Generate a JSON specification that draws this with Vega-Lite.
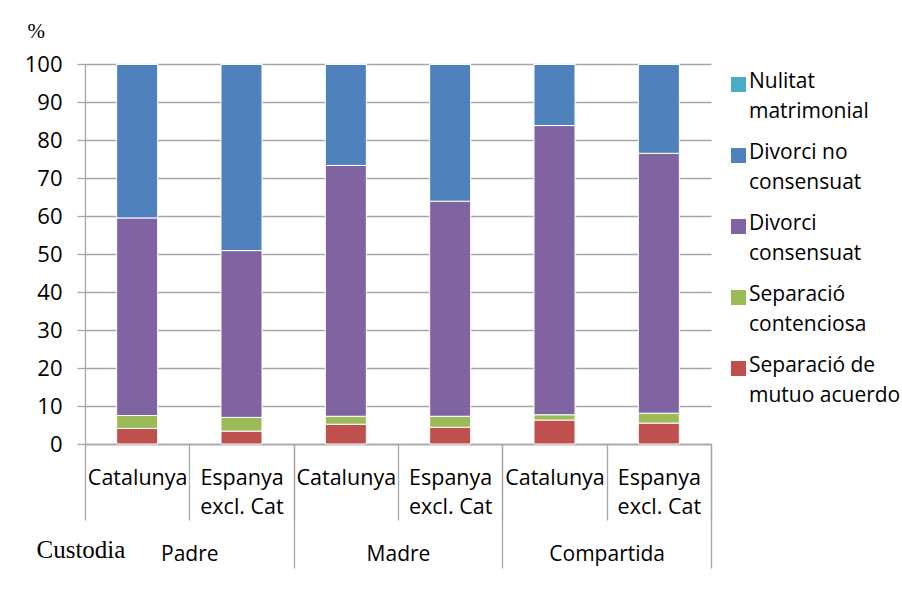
{
  "$schema": "https://vega.github.io/schema/vega-lite/v6.json",
  "width": 626,
  "height": 380,
  "autosize": "none",
  "padding": {"left": 85, "top": 64, "right": 191, "bottom": 161},
  "background": "white",
  "config": {"view": {"stroke": null}},
  "data": {
    "values": [
      {"custody": "Padre", "region": "Catalunya", "key": "Padre Catalunya", "tipo": "Separació de mutuo acuerdo", "ord": 1, "value": 4.1},
      {"custody": "Padre", "region": "Catalunya", "key": "Padre Catalunya", "tipo": "Separació contenciosa", "ord": 2, "value": 3.4},
      {"custody": "Padre", "region": "Catalunya", "key": "Padre Catalunya", "tipo": "Divorci consensuat", "ord": 3, "value": 52.0},
      {"custody": "Padre", "region": "Catalunya", "key": "Padre Catalunya", "tipo": "Divorci no consensuat", "ord": 4, "value": 40.4},
      {"custody": "Padre", "region": "Catalunya", "key": "Padre Catalunya", "tipo": "Nulitat matrimonial", "ord": 5, "value": 0.1},
      {"custody": "Padre", "region": "Espanya excl. Cat", "key": "Padre Espanya excl. Cat", "tipo": "Separació de mutuo acuerdo", "ord": 1, "value": 3.4},
      {"custody": "Padre", "region": "Espanya excl. Cat", "key": "Padre Espanya excl. Cat", "tipo": "Separació contenciosa", "ord": 2, "value": 3.6},
      {"custody": "Padre", "region": "Espanya excl. Cat", "key": "Padre Espanya excl. Cat", "tipo": "Divorci consensuat", "ord": 3, "value": 43.9},
      {"custody": "Padre", "region": "Espanya excl. Cat", "key": "Padre Espanya excl. Cat", "tipo": "Divorci no consensuat", "ord": 4, "value": 49.0},
      {"custody": "Padre", "region": "Espanya excl. Cat", "key": "Padre Espanya excl. Cat", "tipo": "Nulitat matrimonial", "ord": 5, "value": 0.1},
      {"custody": "Madre", "region": "Catalunya", "key": "Madre Catalunya", "tipo": "Separació de mutuo acuerdo", "ord": 1, "value": 5.2},
      {"custody": "Madre", "region": "Catalunya", "key": "Madre Catalunya", "tipo": "Separació contenciosa", "ord": 2, "value": 2.1},
      {"custody": "Madre", "region": "Catalunya", "key": "Madre Catalunya", "tipo": "Divorci consensuat", "ord": 3, "value": 66.0},
      {"custody": "Madre", "region": "Catalunya", "key": "Madre Catalunya", "tipo": "Divorci no consensuat", "ord": 4, "value": 26.6},
      {"custody": "Madre", "region": "Catalunya", "key": "Madre Catalunya", "tipo": "Nulitat matrimonial", "ord": 5, "value": 0.1},
      {"custody": "Madre", "region": "Espanya excl. Cat", "key": "Madre Espanya excl. Cat", "tipo": "Separació de mutuo acuerdo", "ord": 1, "value": 4.4},
      {"custody": "Madre", "region": "Espanya excl. Cat", "key": "Madre Espanya excl. Cat", "tipo": "Separació contenciosa", "ord": 2, "value": 2.9},
      {"custody": "Madre", "region": "Espanya excl. Cat", "key": "Madre Espanya excl. Cat", "tipo": "Divorci consensuat", "ord": 3, "value": 56.6},
      {"custody": "Madre", "region": "Espanya excl. Cat", "key": "Madre Espanya excl. Cat", "tipo": "Divorci no consensuat", "ord": 4, "value": 36.0},
      {"custody": "Madre", "region": "Espanya excl. Cat", "key": "Madre Espanya excl. Cat", "tipo": "Nulitat matrimonial", "ord": 5, "value": 0.1},
      {"custody": "Compartida", "region": "Catalunya", "key": "Compartida Catalunya", "tipo": "Separació de mutuo acuerdo", "ord": 1, "value": 6.3},
      {"custody": "Compartida", "region": "Catalunya", "key": "Compartida Catalunya", "tipo": "Separació contenciosa", "ord": 2, "value": 1.4},
      {"custody": "Compartida", "region": "Catalunya", "key": "Compartida Catalunya", "tipo": "Divorci consensuat", "ord": 3, "value": 76.1},
      {"custody": "Compartida", "region": "Catalunya", "key": "Compartida Catalunya", "tipo": "Divorci no consensuat", "ord": 4, "value": 16.1},
      {"custody": "Compartida", "region": "Catalunya", "key": "Compartida Catalunya", "tipo": "Nulitat matrimonial", "ord": 5, "value": 0.1},
      {"custody": "Compartida", "region": "Espanya excl. Cat", "key": "Compartida Espanya excl. Cat", "tipo": "Separació de mutuo acuerdo", "ord": 1, "value": 5.5},
      {"custody": "Compartida", "region": "Espanya excl. Cat", "key": "Compartida Espanya excl. Cat", "tipo": "Separació contenciosa", "ord": 2, "value": 2.6},
      {"custody": "Compartida", "region": "Espanya excl. Cat", "key": "Compartida Espanya excl. Cat", "tipo": "Divorci consensuat", "ord": 3, "value": 68.4},
      {"custody": "Compartida", "region": "Espanya excl. Cat", "key": "Compartida Espanya excl. Cat", "tipo": "Divorci no consensuat", "ord": 4, "value": 23.4},
      {"custody": "Compartida", "region": "Espanya excl. Cat", "key": "Compartida Espanya excl. Cat", "tipo": "Nulitat matrimonial", "ord": 5, "value": 0.1}
    ]
  },
  "layer": [
    {
      "mark": {"type": "bar", "stroke": "white", "strokeWidth": 1, "width": {"band": 0.393}},
      "encoding": {
        "x": {
          "field": "key", "type": "nominal", "sort": null,
          "scale": {"paddingInner": 0, "paddingOuter": 0},
          "axis": {
            "orient": "bottom",
            "title": null, "tickBand": "extent", "tickSize": 76, "labelPadding": -53,
            "labelExpr": "indexof(datum.label, 'Espanya') >= 0 ? ['Espanya', 'excl. Cat'] : 'Catalunya'",
            "labelFont": "Open Sans", "labelFontSize": 21.5, "labelColor": "black", "labelLineHeight": 29,
            "labelAngle": 0, "labelBaseline": "top", "labelOverlap": false, "labelLimit": 0,
            "labelOpacity": {"condition": {"test": "datum.extra", "value": 0}, "value": 1},
            "tickColor": "#a6a6a6", "tickWidth": 1.3, "domainColor": "#a6a6a6", "domainWidth": 1.3, "grid": false
          }
        },
        "y": {
          "field": "value", "type": "quantitative", "stack": "zero",
          "scale": {"domain": [0, 100], "nice": false},
          "axis": {
            "values": [0, 10, 20, 30, 40, 50, 60, 70, 80, 90, 100],
            "title": "%", "titleAngle": 0, "titleAlign": "left", "titleBaseline": "alphabetic",
            "titleX": -58, "titleY": -27, "titleFont": "Liberation Serif", "titleFontSize": 21,
            "titleFontWeight": "normal", "titleColor": "black",
            "labelFont": "Open Sans", "labelFontSize": 22, "labelColor": "black", "labelPadding": 15,
            "tickSize": 8, "tickColor": "#a6a6a6", "tickWidth": 1.3,
            "domainColor": "#a6a6a6", "domainWidth": 1.3,
            "grid": true, "gridColor": "#a6a6a6", "gridWidth": 1.3
          }
        },
        "color": {
          "field": "tipo", "type": "nominal",
          "scale": {
            "domain": ["Nulitat matrimonial", "Divorci no consensuat", "Divorci consensuat", "Separació contenciosa", "Separació de mutuo acuerdo"],
            "range": ["#4BACC6", "#4F81BD", "#8064A2", "#9BBB59", "#C0504D"]
          },
          "legend": {
            "orient": "none", "legendX": 643, "legendY": 10, "title": null,
            "symbolType": "square", "symbolSize": 225, "symbolStrokeWidth": 0,
            "labelFont": "Open Sans", "labelFontSize": 21, "labelColor": "black", "labelOffset": 0,
            "labelLimit": 0, "rowPadding": 19, "labelBaseline": "top",
            "labelExpr": "datum.label == 'Nulitat matrimonial' ? ['Nulitat', 'matrimonial'] : datum.label == 'Divorci no consensuat' ? ['Divorci no', 'consensuat'] : datum.label == 'Divorci consensuat' ? ['Divorci', 'consensuat'] : datum.label == 'Separació contenciosa' ? ['Separació', 'contenciosa'] : ['Separació de', 'mutuo acuerdo']",
            "encoding": {"labels": {"lineHeight": {"value": 30}, "dy": {"value": -14}}}
          }
        },
        "order": {"field": "ord", "type": "quantitative"}
      }
    },
    {
      "mark": {"type": "bar", "opacity": 0},
      "encoding": {
        "x": {
          "field": "custody", "type": "nominal", "sort": null,
          "scale": {"paddingInner": 0, "paddingOuter": 0},
          "axis": {
            "orient": "bottom",
            "title": "Custodia", "titleX": -49, "titleY": 113, "titleAlign": "left", "titleBaseline": "alphabetic",
            "titleFont": "Liberation Serif", "titleFontSize": 25, "titleFontWeight": "normal", "titleColor": "black",
            "domain": false, "tickBand": "extent", "tickSize": 124, "labelPadding": -24.6,
            "labelFont": "Open Sans", "labelFontSize": 21, "labelColor": "black", "labelAngle": 0, "labelBaseline": "top",
            "labelOpacity": {"condition": {"test": "datum.extra", "value": 0}, "value": 1},
            "tickColor": "#a6a6a6", "tickWidth": 1.3,
            "tickOpacity": {"condition": {"test": "datum.extra", "value": 0}, "value": 1},
            "grid": false
          }
        }
      }
    }
  ],
  "resolve": {"scale": {"x": "independent"}}
}
